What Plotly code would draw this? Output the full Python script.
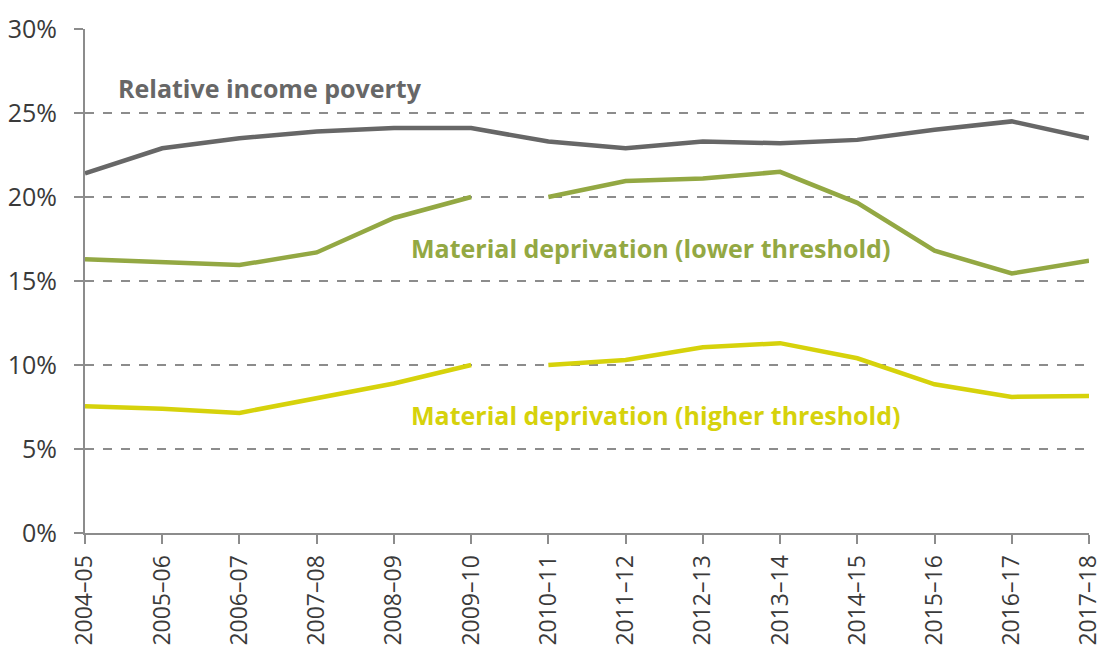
import plotly.graph_objects as go

# Financial years shown on the horizontal axis
years = ["2004–05", "2005–06", "2006–07", "2007–08", "2008–09", "2009–10", "2010–11",
         "2011–12", "2012–13", "2013–14", "2014–15", "2015–16", "2016–17", "2017–18"]

# Shares of people (%)
relative_income_poverty = [21.4, 22.9, 23.5, 23.9, 24.1, 24.1, 23.3,
                           22.9, 23.3, 23.2, 23.4, 24.0, 24.5, 23.5]
md_lower_threshold = [16.3, 16.1, 15.95, 16.7, 18.75, 20.0, 20.0,
                      20.95, 21.1, 21.5, 19.65, 16.8, 15.45, 16.2]
md_higher_threshold = [7.55, 7.4, 7.15, 8.0, 8.9, 10.0, 10.0,
                       10.3, 11.05, 11.3, 10.4, 8.85, 8.1, 8.15]

# Break in the material deprivation series between 2009–10 and 2010–11
BREAK = 6

GREY = "#676767"
OLIVE = "#93a843"
YELLOW = "#d6d20b"
LINE_W = 4.5

fig = go.Figure()

fig.add_trace(go.Scatter(x=years, y=relative_income_poverty, mode="lines",
                         line=dict(color=GREY, width=LINE_W), showlegend=False))

for series, colour in ((md_lower_threshold, OLIVE), (md_higher_threshold, YELLOW)):
    fig.add_trace(go.Scatter(x=years[:BREAK], y=series[:BREAK], mode="lines",
                             line=dict(color=colour, width=LINE_W), showlegend=False))
    fig.add_trace(go.Scatter(x=years[BREAK:], y=series[BREAK:], mode="lines",
                             line=dict(color=colour, width=LINE_W), showlegend=False))

label_font = dict(family="Open Sans", size=25)
fig.add_annotation(x=0.40, y=26.5, xref="x", yref="y", text="<b>Relative income poverty</b>",
                   showarrow=False, xanchor="left", yanchor="middle",
                   font=dict(color=GREY, **label_font))
fig.add_annotation(x=4.19, y=16.95, xref="x", yref="y",
                   text="<b>Material deprivation (lower threshold)</b>",
                   showarrow=False, xanchor="left", yanchor="middle",
                   font=dict(color=OLIVE, **label_font))
fig.add_annotation(x=4.19, y=7.0, xref="x", yref="y",
                   text="<b>Material deprivation (higher threshold)</b>",
                   showarrow=False, xanchor="left", yanchor="middle",
                   font=dict(color=YELLOW, **label_font))

fig.update_layout(
    width=1103, height=646,
    margin=dict(l=85, r=14, t=29, b=113, autoexpand=False),
    paper_bgcolor="white", plot_bgcolor="white",
    font=dict(family="Open Sans", size=25, color="#3a3a3a"),
)

fig.update_xaxes(
    type="category", categoryorder="array", categoryarray=years,
    range=[0, len(years) - 1], automargin=False,
    showgrid=False, zeroline=False,
    showline=True, linecolor="#8c8c8c", linewidth=2,
    ticks="outside", ticklen=9, tickwidth=2, tickcolor="#8c8c8c",
    tickangle=-90, ticklabelstandoff=2,
    tickfont=dict(family="Open Sans", size=23, color="#3a3a3a"),
)

fig.update_yaxes(
    range=[0, 30], tickvals=[0, 5, 10, 15, 20, 25, 30],
    ticktext=["0%", "5%", "10%", "15%", "20%", "25%", "30%"],
    automargin=False,
    showgrid=True, gridcolor="#8c8c8c", gridwidth=1.5, griddash="dash",
    zeroline=False,
    showline=True, linecolor="#8c8c8c", linewidth=2,
    ticks="outside", ticklen=9, tickwidth=2, tickcolor="#8c8c8c",
    ticklabelstandoff=12,
    tickfont=dict(family="Open Sans", size=25, color="#3a3a3a"),
)

fig.write_html("out.html")
